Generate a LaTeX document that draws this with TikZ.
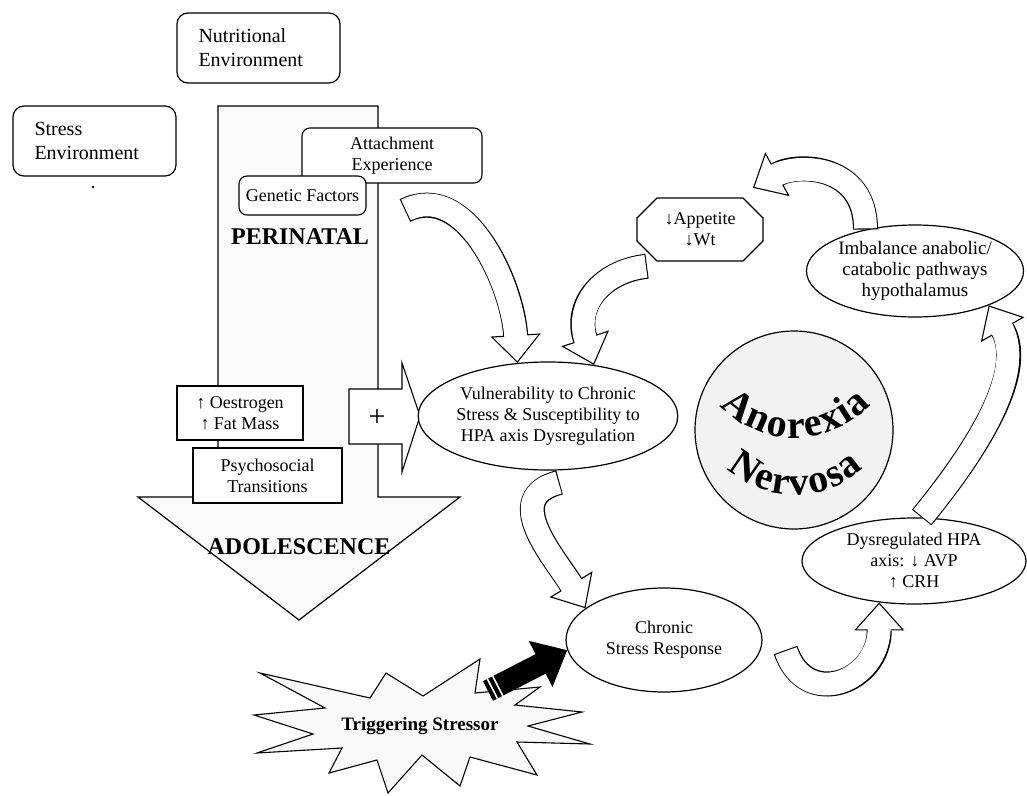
\documentclass[tikz,border=0pt]{standalone}
\usepackage{fontspec}
\setmainfont{Liberation Serif}
\usetikzlibrary{shapes.geometric,arrows.meta,calc}
\newcommand{\labelsize}{\fontsize{18}{21}\selectfont}
\newcommand{\wordart}{\bfseries\fontsize{40}{40}\selectfont}
\tikzset{
  envbox/.style={draw, rounded corners=11pt, line width=1.2pt, fill=white, align=left, text width=120pt, inner xsep=21.5pt, minimum height=70pt, font=\fontsize{20}{24}\selectfont},
  factorbox/.style={draw, rounded corners=8pt, line width=1.1pt, fill=white, align=center, font=\labelsize},
  squarebox/.style={draw, line width=1.1pt, fill=white, align=center, font=\labelsize},
  oval/.style={draw, ellipse, line width=1.2pt, fill=white, align=center, inner sep=0pt, font=\labelsize},
  stagelabel/.style={font=\bfseries\fontsize{24}{28}\selectfont},
  arcletter/.style={anchor=base, inner sep=0pt, font=\wordart},
  bandout/.style={line width=25pt, line cap=butt, -{Triangle[width=50pt,length=28pt,fill=white,line width'=1.1pt]}},
  bandin/.style={white, line width=22.8pt, line cap=butt, shorten <=1.1pt, shorten >=25pt},
}
\newcommand{\bandarrow}[1]{\draw[bandout] #1; \draw[bandin] #1;}

\begin{document}
\begin{tikzpicture}[x=1pt, y=-1pt]
    \useasboundingbox (0,0) rectangle (1027,795);

    % Environment boxes
    \node[envbox] (nutri) at (258.5,48) {Nutritional\\Environment};
    \node[envbox] (stress) at (94.5,141) {Stress\\Environment};
    \fill (93,187) circle (1.4);

    % Perinatal to adolescence arrow
    \draw[line width=1.2pt, fill=gray!4] (218,106) -- (378,106) -- (378,497) -- (460,497) -- (299,620) -- (138,497) -- (218,497) -- cycle;
    \node[stagelabel] (peri) at (300,237) {PERINATAL};
    \node[stagelabel] (adol) at (299,547) {ADOLESCENCE};

    % Factors
    \node[factorbox, minimum width=180pt, minimum height=55pt] (attach) at (392,155.5) {Attachment\\Experience};
    \node[factorbox, minimum width=127pt, minimum height=39pt] (genetic) at (302.5,195.5) {Genetic Factors};
    \node[squarebox, minimum width=126pt, minimum height=54pt] (oestro) at (240,413) {↑ Oestrogen\\↑ Fat Mass};
    \node[squarebox, minimum width=149pt, minimum height=55pt] (psycho) at (267.5,475.5) {Psychosocial\\Transitions};

    % Plus arrow
    \draw[line width=1.1pt, fill=white] (349,389) -- (402,389) -- (402,363) -- (420,416) -- (402,472) -- (402,444) -- (349,444) -- cycle;
    \node[font=\fontsize{30}{30}\selectfont] (plus) at (377,418) {+};

    % Cycle nodes
    \node[oval, minimum width=258pt, minimum height=108pt] (vuln) at (548,416) {Vulnerability to Chronic\\Stress \& Susceptibility to\\HPA axis Dysregulation};
    \node[oval, minimum width=214pt, minimum height=92pt, font=\fontsize{19}{21}\selectfont] (imbal) at (915,271) {Imbalance anabolic/\\catabolic pathways\\hypothalamus};
    \node[oval, minimum width=224pt, minimum height=86pt] (dysreg) at (914,561) {Dysregulated HPA\\axis: ↓ AVP\\↑ CRH};
    \node[oval, minimum width=196pt, minimum height=104pt] (chronic) at (664,640) {Chronic\\Stress Response};
    \draw[line width=1.1pt, fill=white] (657,198) -- (743,198) -- (763,218) -- (763,241) -- (743,261) -- (657,261) -- (637,241) -- (637,218) -- cycle;
    \node[align=center, font=\labelsize, minimum width=126pt, minimum height=63pt] (appetite) at (700,229.5) {↓Appetite\\↓Wt};

    % Central circle with arched lettering
    \node[circle, draw, line width=1.2pt, fill=gray!10, minimum size=198pt] (anorexia) at (794,430) {};
    \foreach \ch/\s in {A/-70, n/-42.5, o/-19.5, r/1.2, e/20.6, x/41.2, i/58.2, a/75.2} {
        \pgfmathsetmacro{\ang}{\s/103*57.2958}
        \node[arcletter, rotate=\ang] at ({795+103*sin(\ang)}, {335+103*cos(\ang)}) {\ch};
    }
    \foreach \ch/\s in {N/-60, e/-34.8, r/-15.5, v/4.7, o/26.4, s/45.6, a/64.9} {
        \pgfmathsetmacro{\ang}{\s/100*57.2958}
        \node[arcletter, rotate=\ang] at ({795+100*sin(\ang)}, {395+100*cos(\ang)}) {\ch};
    }

    % Triggering stressor
    \draw[line width=1.1pt, fill=gray!5] (260,673) -- (370,698) -- (386,673) -- (423,696) -- (480,659) -- (475,693) -- (540,687) -- (515,705) -- (582,712) -- (528,726) -- (590,744) -- (517,742) -- (537,775) -- (470,757) -- (460,786) -- (422,755) -- (388,793) -- (377,760) -- (329,773) -- (342,748) -- (257,753) -- (313,734) -- (254,715) -- (325,708) -- cycle;
    \node[font=\bfseries\fontsize{19}{22}\selectfont] (trigger) at (420,726) {Triggering Stressor};
    \coordinate (burst) at (488,691);
    \draw[line width=22pt, -{Triangle[width=50pt,length=30pt]}] (burst) -- (chronic.186);
    \draw[white, line width=1.6pt] ($(burst)!5pt!(chronic.186)!11pt!90:(chronic.186)$) -- ($(burst)!5pt!(chronic.186)!11pt!-90:(chronic.186)$);
    \draw[white, line width=1.6pt] ($(burst)!11pt!(chronic.186)!11pt!90:(chronic.186)$) -- ($(burst)!11pt!(chronic.186)!11pt!-90:(chronic.186)$);

    % Curved arrows
    \bandarrow{([xshift=13pt,yshift=-27pt]attach.south) .. controls +(60,-30) and +(-5,-80) .. (vuln.120)}
    \bandarrow{([xshift=-53pt,yshift=-5pt]appetite.south) .. controls +(-45,5) and +(-20,-60) .. (vuln.48)}
    \bandarrow{([yshift=-12pt]vuln.-78) .. controls +(-60,15) and +(-30,-50) .. (chronic.158)}
    \bandarrow{([xshift=23pt,yshift=-10pt]chronic.east) .. controls +(20,60) and +(0,80) .. (dysreg.-130)}
    \bandarrow{(dysreg.80) .. controls +(45,-55) and +(40,70) .. (imbal.-25)}
    \bandarrow{(imbal.140) .. controls +(0,-65) and +(45,-25) .. ([xshift=53pt,yshift=10pt]appetite.north)}
\end{tikzpicture}
\end{document}
